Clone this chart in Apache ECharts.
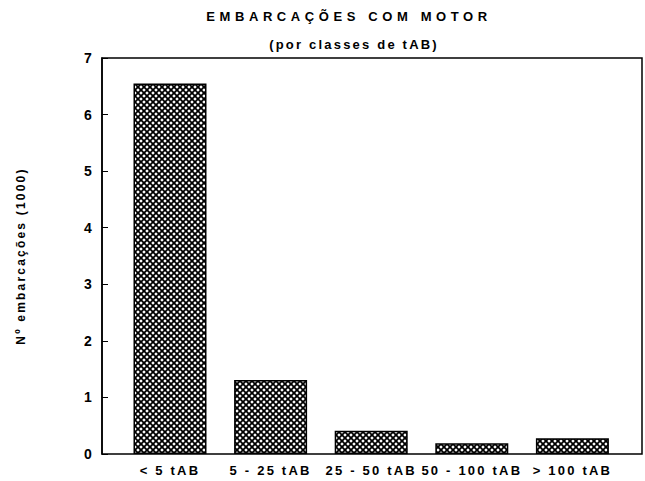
<!DOCTYPE html>
<html>
<head>
<meta charset="utf-8">
<script src="https://cdn.jsdelivr.net/npm/echarts@6/dist/echarts.min.js"></script>
<style>
  html, body { margin: 0; padding: 0; background: #fff; }
  #chart { width: 645px; height: 481px; }
  #chart text { letter-spacing: 2.2px; }
</style>
</head>
<body>
<div id="chart"></div>
<script>
const titleText = 'EMBARCAÇÕES COM MOTOR';
const subtitleText = '(por classes de tAB)';
const yAxisName = 'Nº embarcações (1000)';
const categories = ['< 5 tAB', '5 - 25 tAB', '25 - 50 tAB', '50 - 100 tAB', '> 100 tAB'];
const values = [6.55, 1.31, 0.41, 0.19, 0.28];
const yMin = 0, yMax = 7, yInterval = 1;

// crosshatch pattern
const tile = document.createElement('canvas');
tile.width = 6; tile.height = 6;
const c = tile.getContext('2d');
c.fillStyle = '#000';
c.fillRect(0, 0, 6, 6);
c.fillStyle = '#fff';
function diamond(x, y, r) {
  c.beginPath();
  c.moveTo(x - r, y); c.lineTo(x, y - r); c.lineTo(x + r, y); c.lineTo(x, y + r);
  c.closePath(); c.fill();
}
[[0,0],[6,0],[0,6],[6,6],[3,3]].forEach(p => diamond(p[0], p[1], 1.75));

const font = '"Liberation Sans", Arial, sans-serif';
const chart = echarts.init(document.getElementById('chart'), null, { renderer: 'svg' });
chart.setOption({
  animation: false,
  backgroundColor: '#fff',
  title: [
    { text: titleText, left: 344, top: 5, textAlign: 'center',
      textStyle: { fontFamily: font, fontSize: 13, fontWeight: 'bold', color: '#000' } },
    { text: subtitleText, left: 349, top: 33, textAlign: 'center',
      textStyle: { fontFamily: font, fontSize: 13, fontWeight: 'bold', color: '#000' } }
  ],
  grid: [
    { left: 102, top: 58, width: 540, height: 396, show: true, borderColor: '#000', borderWidth: 1.5, backgroundColor: 'transparent' },
    { left: 119.7, top: 58, width: 503, height: 396 }
  ],
  xAxis: [
    { gridIndex: 0, type: 'value', min: 0, max: 1, show: false },
    { gridIndex: 1, type: 'category', data: categories,
      axisLine: { show: false }, axisTick: { show: false },
      axisLabel: { margin: 10, fontFamily: font, fontSize: 13, fontWeight: 'bold', color: '#000', interval: 0 } }
  ],
  yAxis: [
    { gridIndex: 0, type: 'value', min: yMin, max: yMax, interval: yInterval,
      name: yAxisName, nameLocation: 'middle', nameRotate: 90, nameGap: 75,
      nameTextStyle: { fontFamily: font, fontSize: 12, fontWeight: 'bold', color: '#000' },
      axisLine: { show: true, lineStyle: { color: '#000', width: 1.5 } },
      axisTick: { show: true, inside: true, length: 6, lineStyle: { color: '#000' } },
      axisLabel: { margin: 8, fontFamily: font, fontSize: 14, fontWeight: 'bold', color: '#000' },
      splitLine: { show: false } },
    { gridIndex: 1, type: 'value', min: yMin, max: yMax, interval: yInterval, show: false, splitLine: { show: false } }
  ],
  series: [{
    type: 'bar', xAxisIndex: 1, yAxisIndex: 1, data: values, barWidth: 73,
    itemStyle: { color: { image: tile, repeat: 'repeat' }, borderColor: '#000', borderWidth: 1.5 }
  }]
});
function fixTitle() {
  document.querySelectorAll('#chart text').forEach(t => {
    if (t.textContent === titleText) t.style.letterSpacing = '4.6px';
  });
}
fixTitle();
chart.on('finished', fixTitle);
</script>
</body>
</html>
